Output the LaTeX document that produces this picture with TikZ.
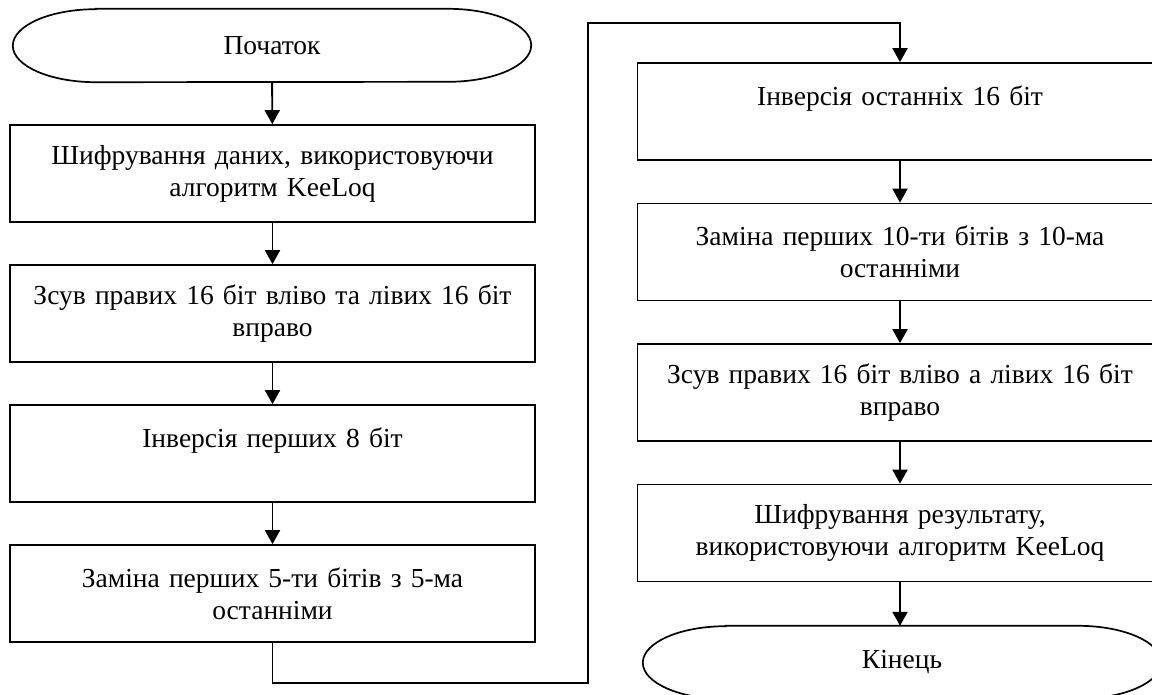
\documentclass[tikz,border=0pt]{standalone}
\usepackage{fontspec}
\setmainfont{Liberation Serif}
\usetikzlibrary{arrows.meta}
\newcommand\termshape[1]{\draw[line width=1.7pt] ([xshift=83pt]#1.north west) -- ([xshift=-83pt]#1.north east) arc[start angle=90,end angle=-90,x radius=83pt,y radius=36.5pt] -- ([xshift=83pt]#1.south west) arc[start angle=270,end angle=90,x radius=83pt,y radius=36.5pt] -- cycle;}
\begin{document}
\begin{tikzpicture}[x=1pt,y=-1pt,
  font=\fontsize{27.5}{32}\selectfont,
  proc/.style={draw, line width=1.7pt, minimum width=525pt, minimum height=97pt, align=center, inner sep=0pt, text width=520pt},
  termtext/.style={minimum width=518pt, minimum height=73pt, inner sep=0pt},
  link/.style={line width=1.9pt, -{Triangle[length=14pt,width=15pt]}},
  plainlink/.style={line width=1.9pt}]
\useasboundingbox (0,0) rectangle (1152,694);
\clip (0,0) rectangle (1152,694);
% left column
\node[termtext] (start) at (272,45.5) {Початок};
\termshape{start}
\node[proc] (b1) at (272.5,173.5) {Шифрування даних, використовуючи\\алгоритм KeeLoq};
\node[proc] (b2) at (272.5,313.5) {Зсув правих 16 біт вліво та лівих 16 біт\\вправо};
\node[proc] (b3) at (272.5,453.5) {Інверсія перших 8 біт\\\mbox{}};
\node[proc] (b4) at (272.5,593.5) {Заміна перших 5-ти бітів з 5-ма\\останніми};
% right column
\node[proc] (bA) at (900,111.5) {Інверсія останніх 16 біт\\\mbox{}};
\node[proc] (bB) at (900,252) {Заміна перших 10-ти бітів з 10-ма\\останніми};
\node[proc] (bC) at (900,392.5) {Зсув правих 16 біт вліво а лівих 16 біт\\вправо};
\node[proc] (bD) at (900,533) {Шифрування результату,\\використовуючи алгоритм KeeLoq};
\node[termtext] (end) at (902,662.5) {Кінець};
\termshape{end}
% connectors
\draw[link] (start) -- (b1);
\draw[link] (b1) -- (b2);
\draw[link] (b2) -- (b3);
\draw[link] (b3) -- (b4);
\coordinate (c1) at (588,683);
\coordinate (c2) at (588,23);
\draw[link] (b4.south) |- (c1) -- (c2) -| (bA.north);
\draw[link] (bA) -- (bB);
\draw[link] (bB) -- (bC);
\draw[link] (bC) -- (bD);
\draw[link] (bD.south) -- (bD.south |- end.north);
\end{tikzpicture}
\end{document}
